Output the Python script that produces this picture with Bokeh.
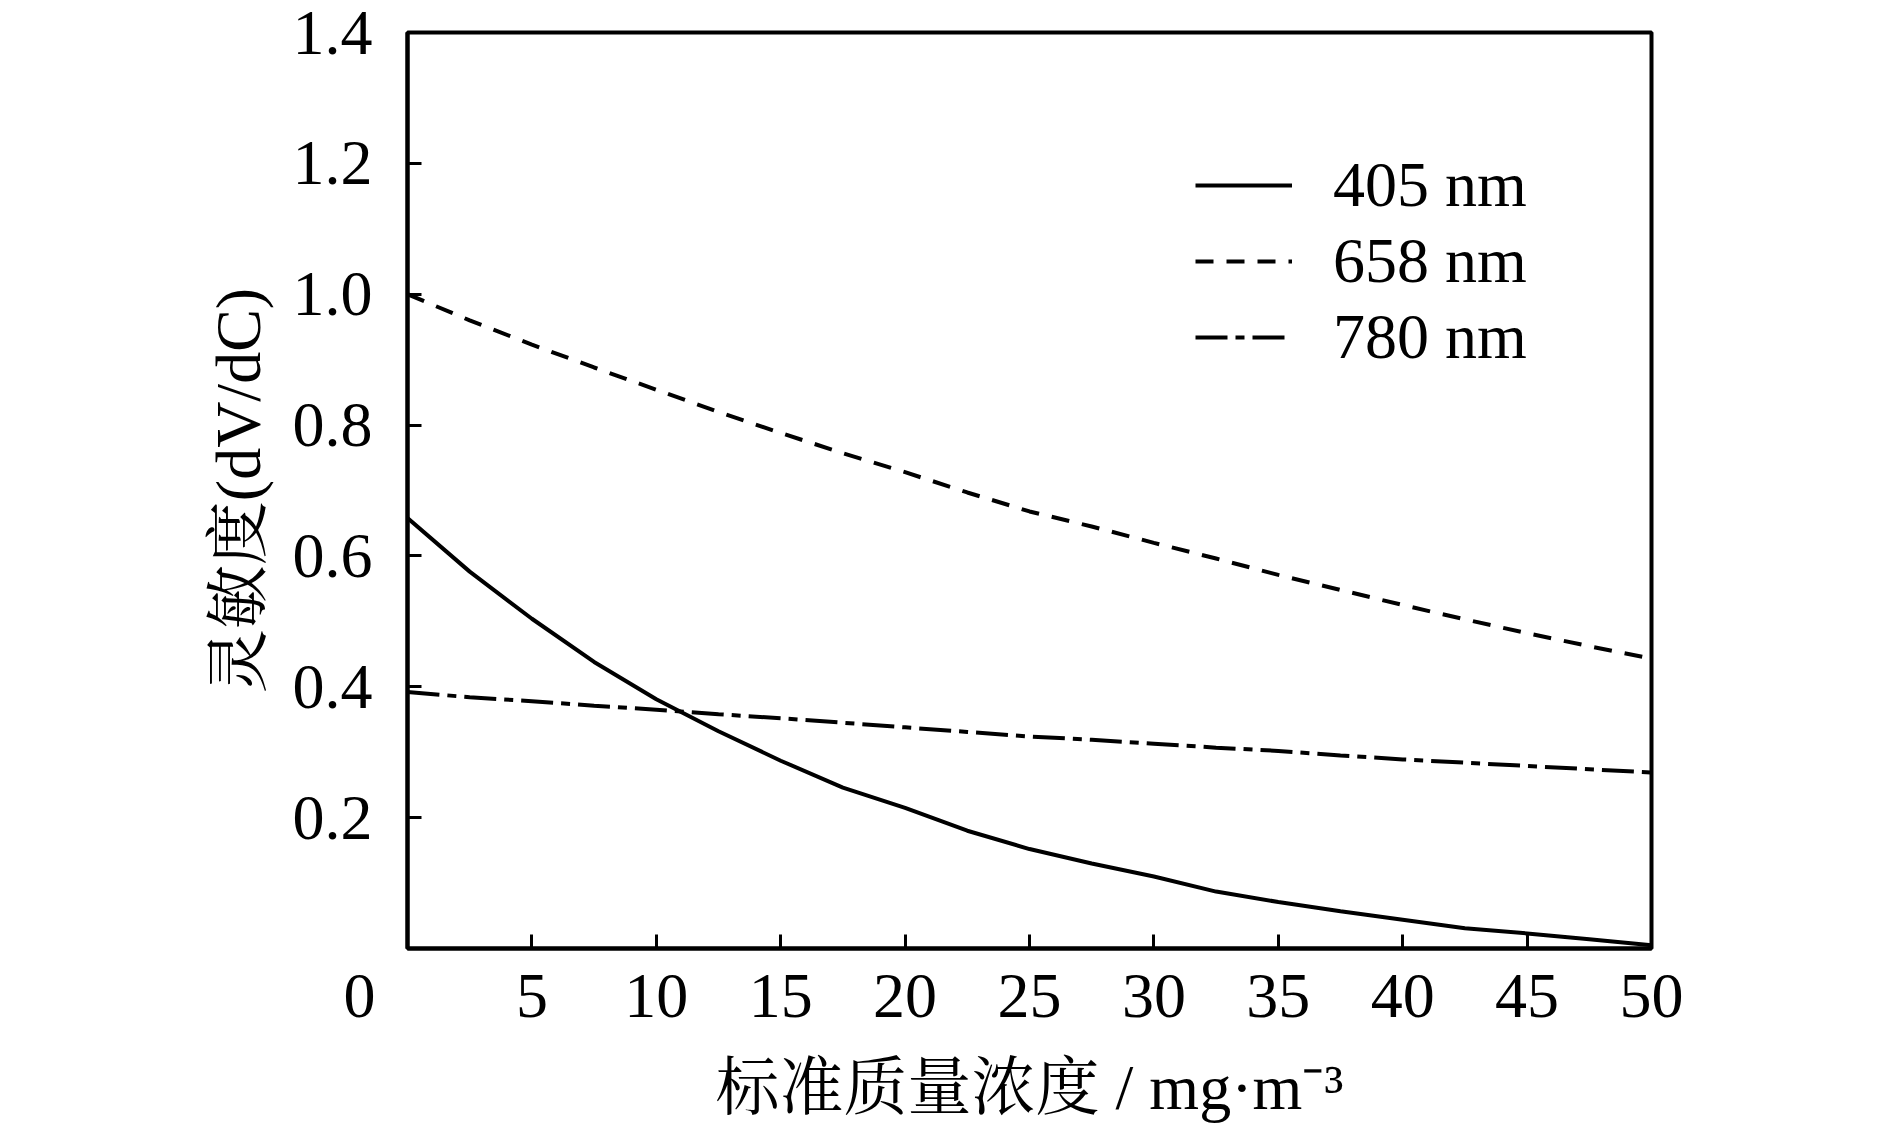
from bokeh.plotting import figure
from bokeh.models import FixedTicker, Legend, LegendItem
from bokeh.embed import file_html
from bokeh.resources import INLINE

# ---- data ----
concentration = [0, 2.5, 5, 7.5, 10, 12.5, 15, 17.5, 20, 22.5, 25,
                 27.5, 30, 32.5, 35, 37.5, 40, 42.5, 45, 47.5, 50]
s405 = [0.658, 0.576, 0.504, 0.438, 0.381, 0.332, 0.287, 0.246, 0.215, 0.180, 0.152,
        0.130, 0.110, 0.087, 0.071, 0.057, 0.044, 0.031, 0.023, 0.014, 0.005]
s658 = [1.000, 0.960, 0.923, 0.888, 0.854, 0.820, 0.788, 0.757, 0.728, 0.697, 0.668,
        0.645, 0.620, 0.596, 0.571, 0.548, 0.525, 0.503, 0.482, 0.462, 0.443]
s780 = [0.392, 0.384, 0.378, 0.371, 0.365, 0.358, 0.352, 0.345, 0.338, 0.331, 0.324,
        0.319, 0.313, 0.307, 0.302, 0.295, 0.289, 0.284, 0.279, 0.274, 0.269]
series_labels = ["405 nm", "658 nm", "780 nm"]
x_ticks = [0, 5, 10, 15, 20, 25, 30, 35, 40, 45, 50]
# the origin "0" sits left of the corner in the reference: pad it with no-break spaces
x_tick_labels = {0: "0" + "\u00a0" * 6}
y_ticks = [0.2, 0.4, 0.6, 0.8, 1.0, 1.2, 1.4]
y_tick_labels = {0.2: "0.2", 0.4: "0.4", 0.6: "0.6", 0.8: "0.8", 1.0: "1.0", 1.2: "1.2", 1.4: "1.4"}
x_title = "标准质量浓度 / mg·m⁻³"
y_title = "灵敏度(dV/dC)"

FONT = "'Liberation Serif', 'Times New Roman', 'Noto Serif CJK SC', 'Noto Sans CJK SC', serif"
FS = "64px"

p = figure(frame_width=1244, frame_height=916, x_range=(0, 50), y_range=(0, 1.4),
           output_backend="svg", toolbar_location=None,
           min_border_left=407, min_border_top=32, min_border_right=200, min_border_bottom=150)

p.xgrid.visible = False
p.ygrid.visible = False
p.outline_line_color = "black"
p.outline_line_width = 4
p.outline_line_alpha = 1.0
p.background_fill_color = "white"
p.border_fill_color = "white"

p.xaxis.ticker = FixedTicker(ticks=x_ticks)
p.xaxis.major_label_overrides = x_tick_labels
p.yaxis.ticker = FixedTicker(ticks=y_ticks)
p.yaxis.major_label_overrides = y_tick_labels

for ax in (p.xaxis[0], p.yaxis[0]):
    ax.axis_line_width = 4
    ax.axis_line_color = "black"
    ax.major_tick_line_width = 3
    ax.major_tick_line_color = "black"
    ax.major_tick_in = 14
    ax.major_tick_out = 0
    ax.minor_tick_in = 0
    ax.minor_tick_out = 0
    ax.major_label_text_font = FONT
    ax.major_label_text_font_size = FS
    ax.major_label_text_color = "black"
    ax.axis_label_text_font = FONT
    ax.axis_label_text_font_size = FS
    ax.axis_label_text_font_style = "normal"
    ax.axis_label_text_color = "black"

p.xaxis.axis_label = x_title
p.yaxis.axis_label = y_title
p.xaxis.major_label_standoff = 11
p.yaxis.major_label_standoff = 35
p.xaxis.axis_label_standoff = 18
p.yaxis.axis_label_standoff = 16

r1 = p.line(concentration, s405, line_width=4, line_color="black")
r2 = p.line(concentration, s658, line_width=4, line_color="black", line_dash="18 13")
r3 = p.line(concentration, s780, line_width=4, line_color="black", line_dash="32 8 9 8")

legend = Legend(items=[LegendItem(label=series_labels[0], renderers=[r1]),
                       LegendItem(label=series_labels[1], renderers=[r2]),
                       LegendItem(label=series_labels[2], renderers=[r3])],
                location=(788, 574), glyph_width=97, glyph_height=60, label_height=60,
                spacing=2, padding=0, margin=0, label_standoff=41,
                border_line_color=None, background_fill_alpha=0,
                label_text_font=FONT, label_text_font_size=FS, label_text_color="black")
p.add_layout(legend)

html = file_html(p, INLINE)
html = html.replace("<head>", "<head><style>html,body{overflow:hidden;}</style>", 1)
open("out.html", "w").write(html)
